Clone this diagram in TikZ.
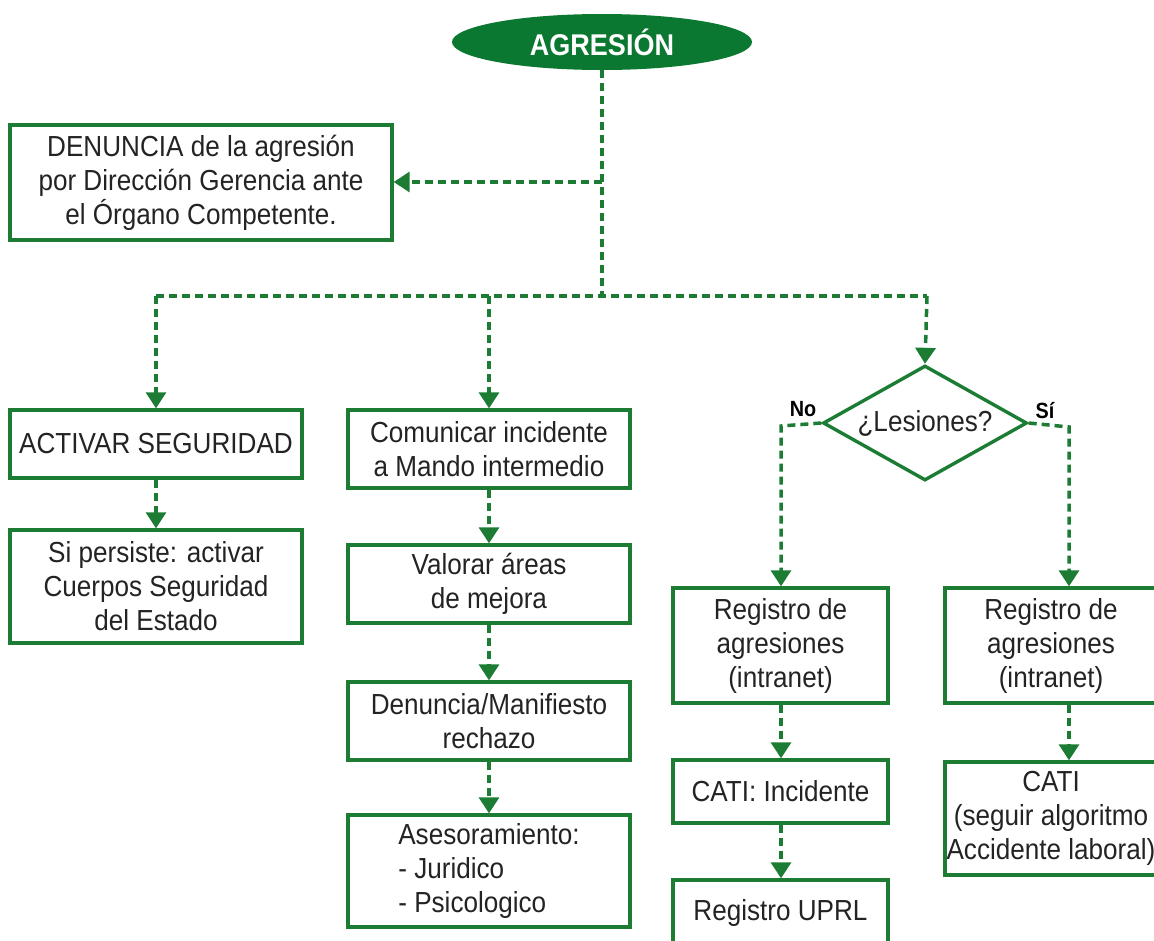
\documentclass[tikz,border=0pt]{standalone}
\usepackage{fontspec}
\setmainfont{Liberation Sans}[FakeStretch=0.9]
\usetikzlibrary{shapes.geometric,arrows.meta,calc}
\definecolor{grn}{RGB}{28,124,52}
\definecolor{grnfill}{RGB}{10,120,48}
\definecolor{ink}{RGB}{35,35,35}
\begin{document}
\begin{tikzpicture}[x=1pt,y=-1pt,
  every node/.style={font=\fontsize{29}{34}\selectfont, text=ink},
  box/.style={draw=grn, line width=3.4pt, rectangle, align=center, inner sep=0pt},
  flow/.style={draw=grn, line width=3.5pt, dash pattern=on 8pt off 5pt,
    -{Triangle[width=20pt,length=16pt]}},
  flowplain/.style={draw=grn, line width=3.5pt, dash pattern=on 8pt off 5pt},
  tag/.style={font=\bfseries\fontsize{22}{25}\selectfont, text=black}]
\useasboundingbox (0,0) rectangle (1154,940);

% top event
\node[ellipse, fill=grnfill, minimum width=300pt, minimum height=56pt, inner sep=0pt,
  font=\bfseries\fontsize{30}{34}\selectfont, text=white] (ag) at (602,42) {AGRESIÓN};

% boxes
\node[box, minimum width=382pt, minimum height=115pt] (den) at (201,182.5)
  {DENUNCIA de la agresión\\por Dirección Gerencia ante\\el Órgano Competente.};
\node[box, minimum width=292pt, minimum height=68pt] (act) at (156,444) {ACTIVAR SEGURIDAD};
\node[box, minimum width=292pt, minimum height=113pt] (sip) at (156,586.5)
  {Si persiste: activar\\Cuerpos Seguridad\\del Estado};
\node[box, minimum width=282pt, minimum height=78pt] (com) at (489,449)
  {Comunicar incidente\\a Mando intermedio};
\node[box, minimum width=282pt, minimum height=78pt] (val) at (489,584)
  {Valorar áreas\\de mejora};
\node[box, minimum width=282pt, minimum height=78pt] (dm) at (489,721)
  {Denuncia/Manifiesto\\rechazo};
\node[box, minimum width=282pt, minimum height=112pt, align=left] (ase) at (489,871)
  {Asesoramiento:\\- Juridico\\- Psicologico};

% decision
\node[diamond, draw=grn, line width=3.4pt, aspect=1.77, minimum width=204pt,
  minimum height=115pt, inner sep=0pt] (les) at (925,423) {¿Lesiones?};
\node[tag] (no) at (803,409) {No};
\node[tag] (si) at (1045,411) {Sí};

\node[box, minimum width=215pt, minimum height=115pt] (rgl) at (780.5,645.5)
  {Registro de\\agresiones\\(intranet)};
\node[box, minimum width=215pt, minimum height=63pt] (cin) at (780.5,791.5) {CATI: Incidente};
\node[box, minimum width=215pt, minimum height=66pt] (upr) at (780.5,913) {Registro UPRL};
\node[box, minimum width=212pt, minimum height=115pt] (rgr) at (1051,645.5)
  {Registro de\\agresiones\\(intranet)};
\node[box, minimum width=212pt, minimum height=113pt] (car) at (1051,818.5)
  {CATI\\(seguir algoritmo\\Accidente laboral)};

% trunk and bus
\coordinate (j1) at (602,182);
\coordinate (bus) at (602,296);
\coordinate (busl) at (156,296);
\coordinate (busm) at (489,296);
\coordinate (busr) at (927,296);
\coordinate (sr) at (1069,427);
\coordinate (sl) at (781,426);

\draw[flowplain] (ag.south) -- (bus);
\draw[flow] (j1) -- (den.east |- j1);
\draw[flowplain] (busl) -- (busr);
\draw[flow] (busl) -- (act.north);
\draw[flow] (busm) -- (com.north);
\draw[flow] (busr) -- (les.north);

% left column
\draw[flow] (act.south) -- (sip.north);
% middle column
\draw[flow] (com.south) -- (val.north);
\draw[flow] (val.south) -- (dm.north);
\draw[flow] (dm.south) -- (ase.north);

% decision outcomes
\draw[flow] (les.west) -- (sl) -- (sl |- rgl.north);
\draw[flow] (les.east) -- (sr) -- (sr |- rgr.north);
\draw[flow] (rgl.south -| sl) -- (cin.north -| sl);
\draw[flow] (cin.south -| sl) -- (upr.north -| sl);
\draw[flow] (rgr.south -| sr) -- (car.north -| sr);
\end{tikzpicture}
\end{document}
